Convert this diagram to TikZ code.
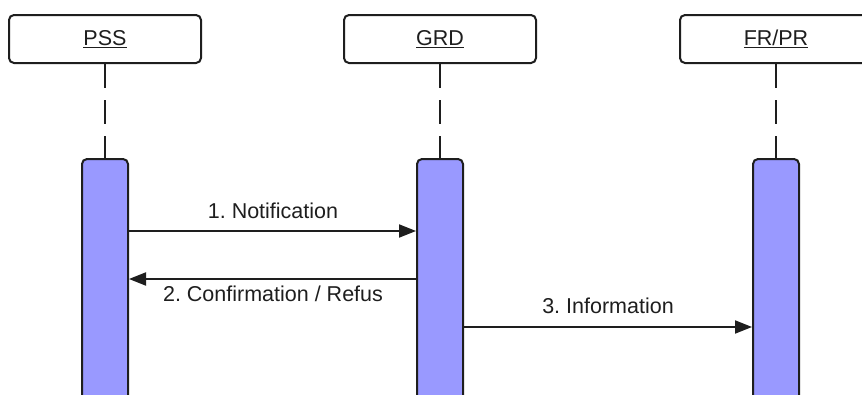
\documentclass[tikz,border=0pt]{standalone}
\usepackage{fontspec}
\setmainfont{Liberation Sans}
\usetikzlibrary{arrows.meta}
\definecolor{ink}{HTML}{1E1E1E}
\definecolor{barfill}{HTML}{9999FF}
\tikzset{
  x=1pt, y=1pt,
  actor/.style={draw=ink, line width=2pt, rounded corners=5pt, fill=white,
    minimum width=192pt, minimum height=48pt, inner sep=0pt, text=ink,
    font=\fontsize{21.5}{25}\selectfont},
  actbar/.style={draw=ink, line width=2pt, rounded corners=5pt, fill=barfill,
    minimum width=46pt, minimum height=270pt, inner sep=0pt},
  lifeline/.style={draw=ink, line width=2pt, dash pattern=on 24pt off 12pt},
  msg/.style={draw=ink, line width=2pt, -{Triangle[length=17pt,width=13pt]}},
  msglabel/.style={anchor=base, inner sep=0pt, text=ink, font=\fontsize{21.5}{25}\selectfont}
}
\begin{document}
\frenchspacing
\begin{tikzpicture}
\useasboundingbox (0,0) rectangle (862,-394);
\clip (0,0) rectangle (862,-394);
% actor boxes
\node[actor] (pss) at (105,-39) {\underline{PSS}};
\node[actor] (grd) at (440,-39) {\underline{GRD}};
\node[actor] (frpr) at (776,-39) {\underline{FR/PR}};
% activation bars
\node[actbar, anchor=north] (pssbar) at (105,-158) {};
\node[actbar, anchor=north] (grdbar) at (440,-158) {};
\node[actbar, anchor=north] (frprbar) at (776,-158) {};
% lifelines
\draw[lifeline] (pss.south) -- (pss.south |- pssbar.north);
\draw[lifeline] (grd.south) -- (grd.south |- grdbar.north);
\draw[lifeline] (frpr.south) -- (frpr.south |- frprbar.north);
% message levels
\coordinate (m1) at (0,-231);
\coordinate (m2) at (0,-279);
\coordinate (m3) at (0,-327);
\draw[msg] (pssbar.east |- m1) -- (grdbar.west |- m1);
\draw[msg] (grdbar.west |- m2) -- (pssbar.east |- m2);
\draw[msg] (grdbar.east |- m3) -- (frprbar.west |- m3);
% labels
\node[msglabel] (l1) at (273,-218) {1. Notification};
\node[msglabel] (l2) at (273,-301) {2. Confirmation / Refus};
\node[msglabel] (l3) at (608,-313) {3. Information};
\end{tikzpicture}
\end{document}
